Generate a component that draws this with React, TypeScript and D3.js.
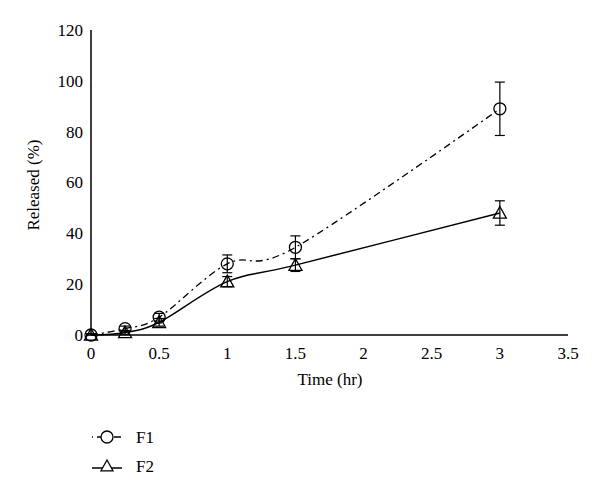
import React from "react";
import * as d3 from "d3";

const times = [0, 0.25, 0.5, 1, 1.5, 3];
const f1Values = [0, 2.5, 7, 28, 34.5, 89];
const f1Errors = [0.5, 1, 1.5, 3.5, 4.5, 10.5];
const f2Values = [0, 1, 5, 21, 27.5, 48];
const f2Errors = [0.5, 0.8, 1.5, 2, 2.5, 4.8];
const xTicks = [0, 0.5, 1, 1.5, 2, 2.5, 3, 3.5];
const yTicks = [0, 20, 40, 60, 80, 100, 120];

const W = 600, H = 480;
const FONT = "Liberation Serif, DejaVu Serif, serif";
const FS = 17;

export default function App() {
  const x = d3.scaleLinear().domain([0, 3.5]).range([91, 568]);
  const y = d3.scaleLinear().domain([0, 120]).range([335, 30]);
  const line = d3
    .line<number>()
    .x((_, i) => x(times[i]))
    .y((d) => y(d))
    .curve(d3.curveCardinal.tension(0));

  const tri = (cx: number, cy: number, s = 6.5) =>
    `M${cx},${cy - s} L${cx + s},${cy + s * 0.8} L${cx - s},${cy + s * 0.8} Z`;

  const errBars = (vals: number[], errs: number[], key: string) =>
    vals.map((v, i) => {
      const cx = x(times[i]);
      const t = y(v + errs[i]);
      const b = y(Math.max(0, v - errs[i]));
      return (
        <g key={key + i} stroke="#000" strokeWidth={1.2}>
          <line x1={cx} x2={cx} y1={t} y2={b} />
          <line x1={cx - 5} x2={cx + 5} y1={t} y2={t} />
          <line x1={cx - 5} x2={cx + 5} y1={b} y2={b} />
        </g>
      );
    });

  const ts = { fontFamily: FONT, fontSize: FS };

  return (
    <svg width={W} height={H} style={{ position: "absolute", left: 0, top: 0, background: "#fff" }}>
      <rect width={W} height={H} fill="#fff" />
      <line x1={x(0)} x2={x(0)} y1={y(120)} y2={y(0)} stroke="#000" strokeWidth={1.5} />
      <line x1={x(0)} x2={x(3.5)} y1={y(0)} y2={y(0)} stroke="#000" strokeWidth={1.5} />
      {yTicks.map((t) => (
        <text key={"y" + t} x={83} y={y(t)} dy="0.35em" textAnchor="end" style={ts}>
          {t}
        </text>
      ))}
      {xTicks.map((t) => (
        <text key={"x" + t} x={x(t)} y={359} textAnchor="middle" style={ts}>
          {t}
        </text>
      ))}
      <text transform={`translate(39,${y(59)}) rotate(-90)`} textAnchor="middle" style={ts}>
        Released (%)
      </text>
      <text x={330} y={385} textAnchor="middle" style={ts}>
        Time (hr)
      </text>

      <path d={line(f1Values) || ""} fill="none" stroke="#000" strokeWidth={1.3} strokeDasharray="7,4,2,4" />
      <path d={line(f2Values) || ""} fill="none" stroke="#000" strokeWidth={1.5} />

      {errBars(f1Values, f1Errors, "e1")}
      {errBars(f2Values, f2Errors, "e2")}

      {f1Values.map((v, i) => (
        <circle key={"c" + i} cx={x(times[i])} cy={y(v)} r={6} fill="none" stroke="#000" strokeWidth={1.3} />
      ))}
      {f2Values.map((v, i) => (
        <path key={"t" + i} d={tri(x(times[i]), y(v))} fill="none" stroke="#000" strokeWidth={1.3} />
      ))}

      <line x1={92} x2={122} y1={437} y2={437} stroke="#000" strokeWidth={1.3} strokeDasharray="7,4,2,4" strokeDashoffset={-5} />
      <circle cx={107} cy={437} r={6} fill="#fff" stroke="#000" strokeWidth={1.3} />
      <text x={136} y={437} dy="0.35em" style={ts}>F1</text>
      <line x1={92} x2={122} y1={468} y2={468} stroke="#000" strokeWidth={1.5} />
      <path d={tri(107, 466, 6)} fill="#fff" stroke="#000" strokeWidth={1.3} />
      <text x={136} y={466} dy="0.35em" style={ts}>F2</text>
    </svg>
  );
}
